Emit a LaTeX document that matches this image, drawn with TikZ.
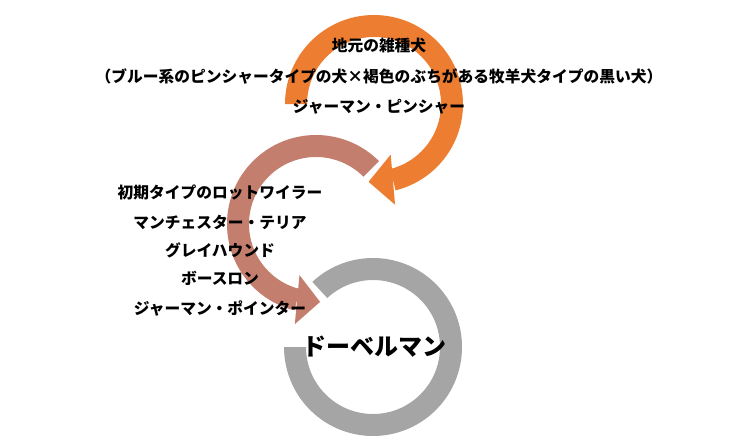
\documentclass[tikz,border=0pt]{standalone}
\usepackage{fontspec}
\setmainfont{Noto Sans CJK JP}
\usetikzlibrary{calc}
\definecolor{arcorange}{RGB}{237,125,49}
\definecolor{arcsalmon}{RGB}{196,126,110}
\definecolor{arcgray}{RGB}{165,165,165}
\begin{document}
\begin{tikzpicture}[x=0.75pt,y=0.75pt,yscale=-1,xscale=1,
  breed/.style={font=\fontsize{11.8}{14}\selectfont\bfseries,inner sep=0pt},
  result/.style={font=\fontsize{18}{22}\selectfont\bfseries,inner sep=0pt}]
\path[use as bounding box] (0,0) rectangle (750,439);

%centres of the three arcs
\coordinate (oTop) at (374,104);
\coordinate (oMid) at (316,224);
\coordinate (oBot) at (373,347);

%Arc: gray ring
\fill[arcgray] ($(oBot)+(-133:89)$) arc[start angle=-133,end angle=180,radius=89] -- ($(oBot)+(180:67)$) arc[start angle=180,end angle=-133,radius=67] -- cycle ;

%Arc: salmon arrow
\fill[arcsalmon] ($(oMid)+(-45:89)$) arc[start angle=-45,end angle=-256,radius=89] -- ($(oMid)+(-256:67)$) arc[start angle=-256,end angle=-45,radius=67] -- cycle ;
\coordinate (mMid) at ($(oMid)+(-256:78)$);
\coordinate (tMid) at ($(oMid)+(-273:78)$);
\fill[arcsalmon] ($(mMid)!1.07!90:(tMid)$) -- (tMid) -- ($(mMid)!1.07!-90:(tMid)$) -- cycle ;

%Arc: orange arrow
\fill[arcorange] ($(oTop)+(-180:89)$) arc[start angle=-180,end angle=76,radius=89] -- ($(oTop)+(76:67)$) arc[start angle=76,end angle=-180,radius=67] -- cycle ;
\coordinate (mTop) at ($(oTop)+(76:78)$);
\coordinate (tTop) at ($(oTop)+(94:78)$);
\fill[arcorange] ($(mTop)!1.03!90:(tTop)$) -- (tTop) -- ($(mTop)!1.03!-90:(tTop)$) -- cycle ;

%Text: top
\node[breed] (zasshu) at (379,45) {地元の雑種犬};
\node[breed] (kouhai) at (379,76) {（ブルー系のピンシャータイプの犬×褐色のぶちがある牧羊犬タイプの黒い犬）};
\node[breed] (pinscher) at (379,107) {ジャーマン・ピンシャー};

%Text: left
\node[breed] (rott) at (220,193) {初期タイプのロットワイラー};
\node[breed] (terrier) at (220,222) {マンチェスター・テリア};
\node[breed] (grey) at (220,250) {グレイハウンド};
\node[breed] (beauce) at (220,278) {ボースロン};
\node[breed] (pointer) at (220,308) {ジャーマン・ポインター};

%Text: result
\node[result] (dobe) at (374,347) {ドーベルマン};

\end{tikzpicture}
\end{document}
